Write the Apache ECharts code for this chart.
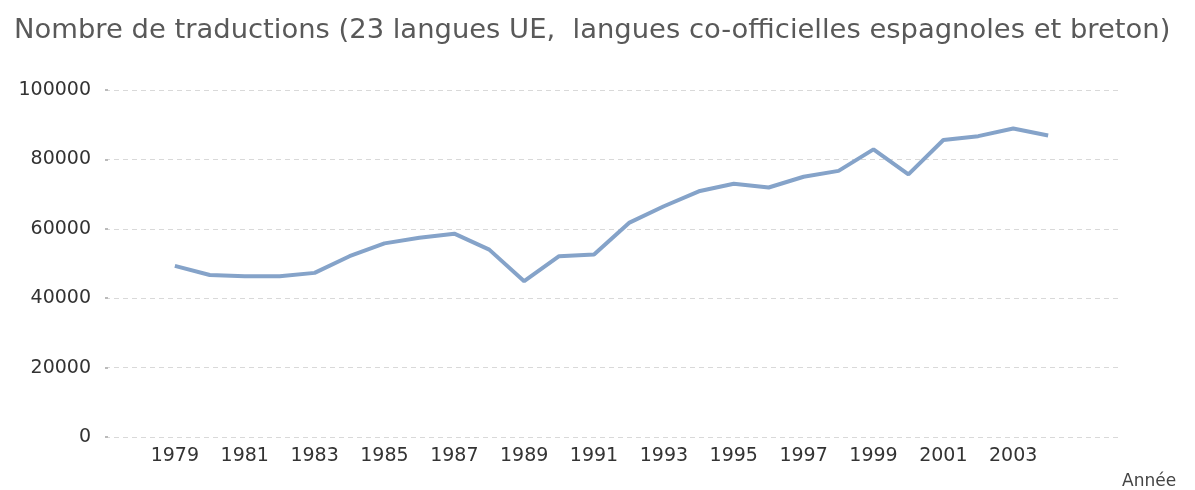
<!DOCTYPE html>
<html>
<head>
<meta charset="utf-8">
<title>Nombre de traductions</title>
<script src="https://cdn.jsdelivr.net/npm/echarts@6/dist/echarts.min.js"></script>
<style>
  html, body { margin: 0; padding: 0; background: #fff; }
  #chart { width: 1195px; height: 490px; }
</style>
</head>
<body>
<div id="chart"></div>
<script>
// années et nombre de traductions
const years = [1979, 1980, 1981, 1982, 1983, 1984, 1985, 1986, 1987, 1988, 1989, 1990, 1991,
  1992, 1993, 1994, 1995, 1996, 1997, 1998, 1999, 2000, 2001, 2002, 2003, 2004]
const translations = [49300, 46700, 46300, 46300, 47300, 52100, 55800, 57400, 58600, 54000, 44900, 52100, 52600,
  61700, 66500, 70800, 73000, 71900, 75000, 76700, 82900, 75700, 85600, 86700, 88900, 86900]
const xTickLabels = [1979, 1981, 1983, 1985, 1987, 1989, 1991, 1993, 1995, 1997, 1999, 2001, 2003]
const yTicks = [0, 20000, 40000, 60000, 80000, 100000]

const chart = echarts.init(document.getElementById('chart'))

const labelFont = 'DejaVu Sans'

chart.setOption({
  animation: false,
  title: {
    text: 'Nombre de traductions (23 langues UE,  langues co-officielles espagnoles et breton)',
    left: 9,
    top: 12,
    textStyle: {
      fontFamily: labelFont,
      fontSize: 27.4,
      fontWeight: 'normal',
      color: '#595959',
    },
  },
  grid: {
    left: 105,
    right: 77,
    top: 90,
    bottom: 53,
  },
  xAxis: {
    type: 'value',
    min: 1977,
    max: 2006,
    name: 'Année',
    nameLocation: 'end',
    nameGap: 4,
    nameTextStyle: {
      fontFamily: labelFont,
      fontSize: 17,
      color: '#444',
      verticalAlign: 'top',
      padding: [36, 0, 0, 0],
    },
    axisLine: { show: false },
    axisTick: { show: false },
    splitLine: { show: false },
    axisLabel: {
      customValues: xTickLabels,
      margin: 10,
      fontFamily: labelFont,
      fontSize: 19,
      color: '#333',
      formatter: (v) => String(v),
    },
  },
  yAxis: {
    type: 'value',
    min: 0,
    max: 100000,
    interval: 20000,
    axisLine: { show: false },
    axisTick: {
      show: true,
      length: 3,
      inside: true,
      lineStyle: { color: '#bbb', width: 2 },
      customValues: yTicks,
    },
    splitLine: {
      lineStyle: { color: '#d9d9d9', type: [5, 4], width: 1 },
    },
    axisLabel: {
      margin: 14,
      fontFamily: labelFont,
      fontSize: 19,
      color: '#333',
      formatter: (v) => String(v),
    },
  },
  series: [
    {
      name: 'Traductions',
      type: 'line',
      showSymbol: false,
      lineStyle: { width: 4, color: '#85a3c9' },
      data: years.map((y, i) => [y, translations[i]]),
    },
  ],
})
</script>
</body>
</html>
